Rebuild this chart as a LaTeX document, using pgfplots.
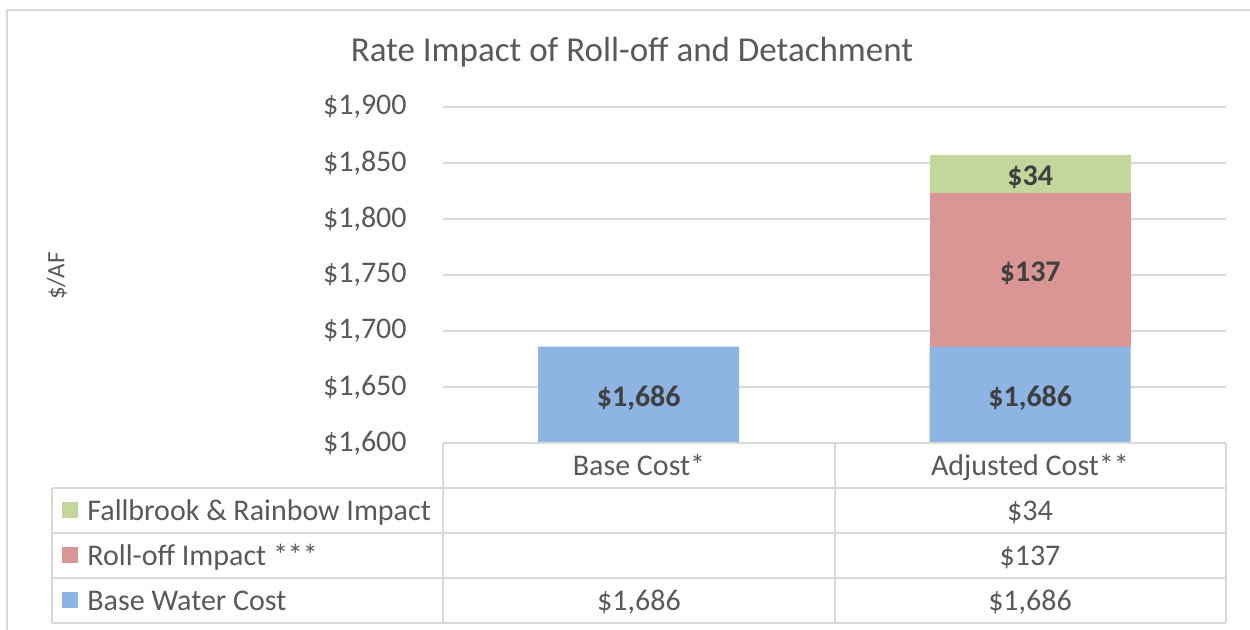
\documentclass[border=0pt]{standalone}
\usepackage{fontspec}
\setmainfont{Carlito}
\usepackage{pgfplots}
\pgfplotsset{compat=1.18}
\definecolor{txt}{HTML}{595959}
\definecolor{lbl}{HTML}{404040}
\definecolor{grd}{HTML}{D9D9D9}
\definecolor{cblue}{HTML}{8EB4E3}
\definecolor{cred}{HTML}{D99694}
\definecolor{cgreen}{HTML}{C3D69B}
\newcommand{\tfont}{\fontsize{15pt}{18pt}\selectfont}
\begin{document}
\begin{tikzpicture}
\useasboundingbox (0,0) rectangle (625pt,315pt);
\begin{axis}[
  at={(221.5pt,93.5pt)}, anchor=south west, scale only axis,
  width=391.5pt, height=168pt,
  ybar stacked, bar width=100.5pt,
  xmin=-0.5, xmax=1.5, ymin=1600, ymax=1900,
  xtick=\empty,
  ytick={1600,1650,1700,1750,1800,1850,1900},
  yticklabels={{\$1,600},{\$1,650},{\$1,700},{\$1,750},{\$1,800},{\$1,850},{\$1,900}},
  yticklabel style={font=\tfont, color=txt, inner sep=0pt},
  yticklabel shift=18pt,
  major tick length=0pt,
  axis line style={draw=none},
  ymajorgrids, grid style={grd, line width=1pt},
  clip=false,
  point meta=explicit symbolic,
  nodes near coords,
  every node near coord/.append style={font=\tfont\bfseries, color=lbl, anchor=center, yshift=-1.5pt},
]
% stacked labels sit mid-segment; the base segment starts at 0, so lift its
% labels from 843 to 1643 (800 units = 448pt at this scale)
\addplot[fill=cblue, draw=none, every node near coord/.append style={yshift=448pt}]
  coordinates {(0,1686) [{\$1,686}] (1,1686) [{\$1,686}]};
\addplot[fill=cred, draw=none]
  coordinates {(0,0) [{}] (1,137) [{\$137}]};
\addplot[fill=cgreen, draw=none]
  coordinates {(0,0) [{}] (1,34) [{\$34}]};
\end{axis}

\begin{scope}[x=0.5pt,y=0.5pt]
% outer chart frame (left and top edges visible)
\draw[grd, line width=1pt] (7,0) -- (7,620) -- (1250,620);
% title and axis title
\node[font=\fontsize{17.5pt}{21pt}\selectfont, text=txt] at (632,578) {Rate Impact of Roll-off and Detachment};
\node[font=\fontsize{12.5pt}{15pt}\selectfont, text=txt, rotate=90] at (57,354) {\$/AF};

% data table
\begin{scope}[grd, line width=1pt]
\draw (443,187) -- (1226,187);
\foreach \yy in {142,97,52,7} \draw (52,\yy) -- (1226,\yy);
\draw (443,187) -- (443,7);
\draw (835,187) -- (835,7);
\draw (1226,187) -- (1226,7);
\draw (52,142) -- (52,7);
\end{scope}
\begin{scope}[font=\tfont, text=txt]
\node[anchor=base] at (639,154.5) {Base Cost*};
\node[anchor=base] at (1030,154.5) {Adjusted Cost**};
\fill[cgreen] (62,111.5) rectangle (78,127.5);
\fill[cred] (62,66.5) rectangle (78,82.5);
\fill[cblue] (62,21.5) rectangle (78,37.5);
\node[anchor=base west, inner sep=0pt] at (87,109.5) {Fallbrook \& Rainbow Impact};
\node[anchor=base west, inner sep=0pt] at (87,64.5) {Roll-off Impact ***};
\node[anchor=base west, inner sep=0pt] at (87,19.5) {Base Water Cost};
\node[anchor=base, inner sep=0pt] at (1030,109.5) {\$34};
\node[anchor=base, inner sep=0pt] at (1030,64.5) {\$137};
\node[anchor=base, inner sep=0pt] at (639,19.5) {\$1,686};
\node[anchor=base, inner sep=0pt] at (1030,19.5) {\$1,686};
\end{scope}
\end{scope}
\end{tikzpicture}
\end{document}
